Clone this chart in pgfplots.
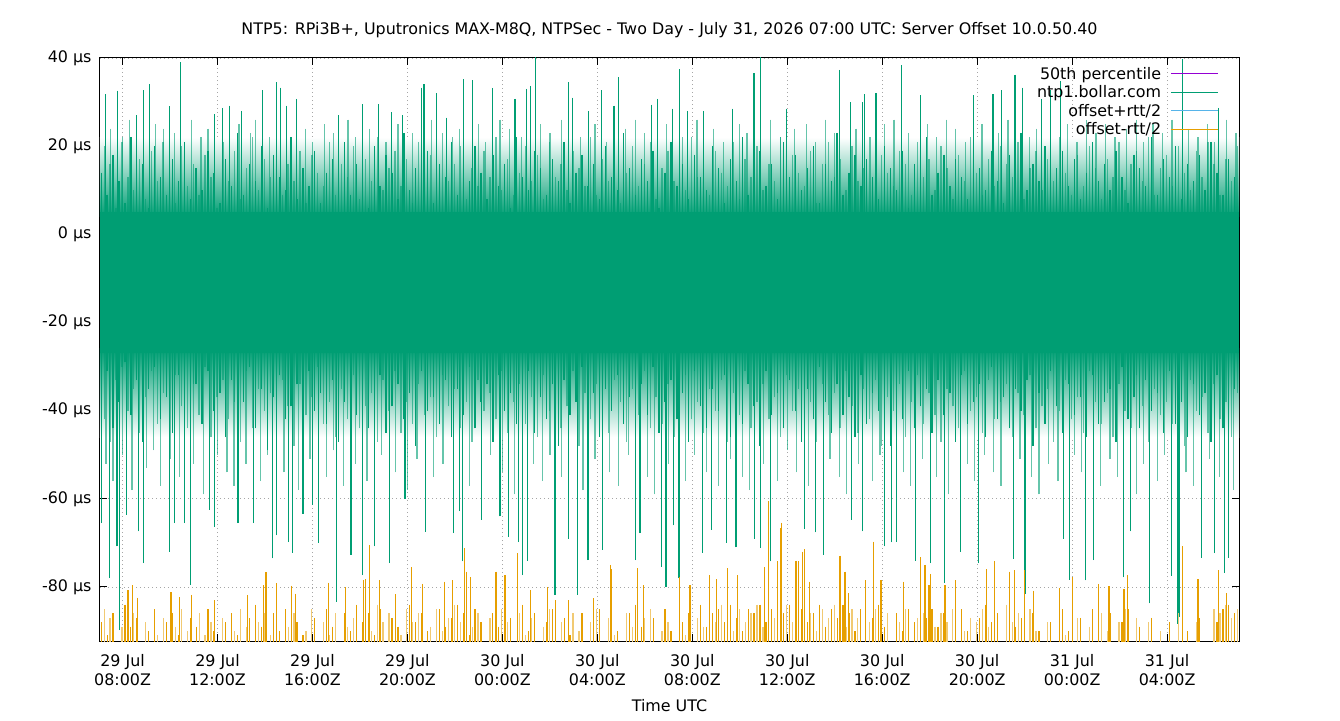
\documentclass[border=0pt]{standalone}
\usepackage{fontspec}
\setmainfont{DejaVu Sans}
\usepackage{pgfplots}
\usepackage{pgfplotstable}
\pgfplotsset{compat=1.18}
\definecolor{gnGreen}{HTML}{009E73}
\definecolor{gnOrange}{HTML}{E69F00}
\definecolor{gnBlue}{HTML}{56B4E9}
\definecolor{gnPurple}{HTML}{9400D3}

% x = hours since 29 Jul 00:00 UTC; uA/uB upward spikes, dA/dB downward spikes (ntp1), oA/oB offset-rtt/2 peaks
\pgfplotstableread{
x uA uB dA dB oA oB
7.10 14 20 -36 -42 -88 -85
7.35 9 16 -31 -47 -91 -87
7.60 18 6 -44 -33 -86 -96
7.85 12 21 -38 -30 -96 -89
8.10 7 13 -29 -40 -84 -90
8.35 22 10 -41 -35 -89 -86
8.60 11 17 -33 -45 -87 -96
8.85 16 8 -47 -37 -96 -88
9.10 6 19 -35 -31 -90 -96
9.35 20 12 -30 -43 -85 -91
9.60 13 24 -42 -36 -96 -87
9.85 9 15 -37 -48 -88 -96
10.10 17 7 -45 -32 -86 -89
10.35 12 20 -32 -39 -91 -85
10.60 21 11 -39 -44 -96 -90
10.85 8 16 -48 -34 -87 -96
11.10 15 9 -34 -41 -89 -86
11.35 10 18 -43 -30 -96 -91
11.60 19 13 -31 -46 -85 -88
11.85 14 6 -40 -37 -90 -96
12.10 7 21 -36 -33 -96 -87
12.35 17 12 -46 -42 -88 -96
12.60 11 19 -33 -38 -86 -90
12.85 23 8 -41 -47 -91 -85
13.10 9 15 -38 -31 -96 -89
13.35 16 22 -30 -44 -87 -96
13.60 12 10 -44 -35 -84 -88
13.85 20 17 -35 -40 -89 -86
14.10 6 13 -49 -36 -96 -91
14.35 18 20 -37 -45 -86 -87
14.60 13 9 -32 -33 -90 -96
14.85 10 16 -42 -39 -85 -89
15.10 22 12 -39 -48 -96 -86
15.35 8 19 -34 -34 -88 -96
15.60 15 7 -46 -41 -91 -90
15.85 11 18 -31 -37 -96 -85
16.10 19 14 -40 -30 -87 -96
16.35 7 11 -36 -43 -96 -88
16.60 14 21 -43 -38 -85 -91
16.85 17 9 -33 -46 -89 -86
17.10 12 16 -47 -35 -96 -96
17.35 21 13 -38 -42 -86 -89
17.60 9 20 -30 -32 -90 -87
17.85 16 8 -41 -44 -84 -96
18.10 13 17 -35 -39 -88 -85
18.35 6 12 -44 -36 -86 -90
18.60 20 22 -37 -47 -91 -84
18.85 11 10 -32 -33 -85 -88
19.10 18 15 -45 -40 -96 -86
19.35 14 19 -39 -31 -87 -96
19.60 8 11 -34 -45 -89 -91
19.85 23 17 -42 -38 -96 -85
20.10 10 7 -36 -43 -84 -88
20.35 15 21 -48 -34 -88 -86
20.60 12 14 -31 -41 -86 -96
20.85 19 18 -40 -37 -90 -89
21.10 7 9 -37 -46 -96 -85
21.35 16 23 -43 -32 -85 -90
21.60 13 12 -33 -39 -89 -87
21.85 21 16 -46 -35 -87 -84
22.10 9 20 -35 -44 -84 -88
22.35 17 8 -41 -38 -86 -85
22.60 12 15 -30 -47 -91 -89
22.85 20 11 -44 -33 -85 -86
23.10 14 19 -38 -40 -88 -96
23.35 8 13 -34 -36 -96 -87
23.60 18 22 -47 -42 -86 -90
23.85 11 10 -32 -31 -89 -85
24.10 16 17 -40 -45 -85 -88
24.35 6 9 -36 -38 -87 -96
24.60 22 14 -43 -34 -96 -86
24.85 13 20 -39 -43 -84 -91
25.10 10 12 -31 -37 -90 -87
25.35 19 18 -45 -46 -86 -96
25.60 15 8 -37 -32 -96 -89
25.85 9 21 -42 -40 -88 -85
26.10 17 13 -34 -35 -85 -96
26.35 12 16 -48 -44 -96 -88
26.60 21 10 -33 -39 -87 -96
26.85 7 19 -41 -31 -91 -86
27.10 14 15 -38 -48 -96 -90
27.35 18 11 -30 -36 -86 -96
27.60 11 22 -44 -42 -96 -88
27.85 16 9 -36 -34 -89 -85
28.10 8 17 -46 -40 -85 -96
28.35 20 12 -35 -45 -96 -87
28.60 13 18 -40 -33 -88 -91
28.85 10 7 -32 -38 -90 -96
29.10 23 14 -43 -47 -96 -86
29.35 15 20 -37 -35 -86 -89
29.60 9 11 -49 -41 -84 -96
29.85 17 16 -34 -31 -89 -87
30.10 12 21 -41 -44 -96 -85
30.35 19 8 -30 -37 -87 -96
30.60 6 15 -45 -43 -96 -90
30.85 14 19 -38 -34 -85 -88
31.10 21 12 -33 -46 -90 -96
31.35 11 17 -42 -39 -96 -86
31.60 16 10 -36 -32 -88 -91
31.85 8 22 -47 -42 -86 -96
32.10 18 13 -31 -38 -96 -87
32.35 13 16 -39 -45 -84 -89
32.60 10 9 -44 -35 -89 -85
32.85 20 19 -35 -40 -86 -88
33.10 15 14 -40 -33 -85 -84
33.35 7 11 -32 -47 -88 -86
33.60 17 21 -46 -36 -84 -90
33.85 12 8 -37 -41 -87 -85
34.10 22 17 -43 -31 -90 -88
34.35 9 13 -34 -44 -85 -86
34.60 14 20 -39 -38 -86 -84
34.85 19 10 -48 -34 -84 -89
35.10 11 16 -31 -42 -88 -85
35.35 16 12 -41 -37 -85 -87
35.60 8 22 -36 -46 -83 -86
35.85 21 9 -44 -32 -86 -84
36.10 13 18 -33 -40 -84 -88
36.35 18 14 -40 -35 -87 -85
36.60 10 11 -47 -43 -85 -83
36.85 15 19 -35 -38 -88 -86
37.10 20 7 -42 -47 -86 -90
37.35 7 16 -30 -34 -84 -85
37.60 16 21 -38 -41 -89 -87
37.85 12 13 -45 -36 -85 -84
38.10 23 17 -34 -44 -87 -86
38.35 9 10 -41 -31 -84 -89
38.60 14 20 -37 -39 -86 -85
38.85 18 12 -46 -45 -90 -87
39.10 11 15 -32 -35 -85 -96
39.35 17 22 -43 -42 -96 -88
39.60 13 8 -36 -33 -87 -85
39.85 8 18 -40 -48 -84 -90
40.10 20 14 -33 -37 -89 -86
40.35 15 11 -48 -40 -96 -96
40.60 10 19 -37 -34 -86 -88
40.85 19 16 -42 -46 -90 -85
41.10 6 9 -31 -38 -85 -96
41.35 16 21 -44 -32 -88 -87
41.60 12 13 -39 -43 -84 -86
41.85 22 17 -35 -36 -87 -84
42.10 9 10 -45 -41 -85 -89
42.35 14 20 -33 -47 -89 -86
42.60 18 15 -41 -35 -86 -88
42.85 11 8 -36 -39 -96 -85
43.10 17 18 -47 -44 -88 -96
43.35 13 12 -32 -31 -85 -90
43.60 8 22 -43 -40 -90 -87
43.85 21 14 -38 -37 -96 -88
44.10 15 9 -34 -45 -87 -85
44.35 10 17 -46 -33 -84 -89
44.60 19 11 -30 -42 -88 -86
44.85 12 20 -42 -38 -86 -96
45.10 7 16 -37 -34 -96 -84
45.35 18 13 -44 -46 -85 -88
45.60 14 21 -35 -36 -89 -86
45.85 23 8 -40 -41 -87 -96
46.10 10 15 -33 -32 -96 -85
46.35 16 19 -48 -44 -86 -90
46.60 12 10 -36 -39 -90 -96
46.85 20 17 -43 -35 -96 -88
47.10 9 12 -31 -47 -88 -96
47.35 15 22 -39 -40 -96 -86
47.60 19 14 -45 -33 -85 -91
47.85 11 9 -34 -42 -90 -96
48.10 17 18 -41 -37 -96 -87
48.35 8 11 -37 -45 -87 -96
48.60 14 20 -46 -31 -96 -89
48.85 21 15 -32 -38 -85 -96
49.10 12 8 -43 -43 -89 -86
49.35 16 17 -38 -36 -96 -90
49.60 10 13 -35 -46 -86 -96
49.85 19 21 -47 -34 -96 -88
50.10 13 10 -30 -40 -88 -85
50.35 7 16 -42 -44 -85 -96
50.60 18 19 -37 -32 -96 -87
50.85 15 12 -44 -39 -89 -96
51.10 11 22 -33 -47 -96 -88
51.35 22 9 -40 -35 -87 -96
51.60 9 15 -36 -41 -96 -90
51.85 17 18 -45 -38 -96 -96
52.10 13 11 -31 -43 -88 -96
52.35 20 20 -43 -36 -96 -86
52.60 8 14 -38 -48 -96 -96
52.85 16 10 -46 -33 -90 -96
53.10 12 19 -34 -40 -96 -88
53.35 18 13 -41 -37 -87 -96
53.60 10 21 -36 -45 -96 -96
53.85 21 16 -47 -34 -96 -85
54.10 14 9 -32 -42 -88 -86
54.35 9 17 -44 -38 -85 -84
54.60 17 12 -39 -46 -84 -87
54.85 13 20 -35 -36 -86 -85
}\mainT

% tallest upward spikes
\pgfplotstableread{
h v
7.27 31.8
7.79 32.6
8.58 27
8.88 32.7
9.14 34
9.98 29
10.43 39
11.86 27.3
12.2 28.7
12.5 29.2
13.01 28
13.88 32.7
14.5 34.5
14.64 33.3
14.92 29.2
15.34 30.7
17.1 27
18.12 29.5
18.77 29.5
19.34 27.7
19.8 27
20.6 33.3
20.7 34
21.24 32
21.66 26.5
22.36 35.2
22.75 35
23.6 33.2
24.53 30.7
25.03 33
25.17 33.7
25.38 40.5
26.78 34.5
26.96 31
27.62 28
28.18 32.7
28.7 29.2
28.89 35.6
30.29 29.4
30.53 30.7
31.18 28.5
31.45 37.5
31.8 28
32.46 28
33.68 28.5
34.6 36.5
34.88 40.3
35.97 28.5
38.19 37.3
38.67 30
39.16 30
39.24 31.8
39.74 32
40.82 38.3
41.62 31.5
43.83 31.5
44.67 31.8
45.03 32.7
45.59 36.2
45.9 33.3
46.71 30.7
47.1 32.7
47.51 34.7
52.65 39.8
54.15 28.7
}\tallUp

% medium upward spikes
\pgfplotstableread{
h v
7.5 24
8.0 22
8.3 26
9.4 25
9.7 21
10.2 23
10.9 26
11.3 22
11.6 24
12.9 25
13.4 23
13.6 26
14.2 22
15.7 24
16.0 21
16.5 25
16.9 23
17.5 26
17.8 22
18.4 24
19.1 21
19.6 25
20.2 23
21.0 26
21.9 22
22.2 24
23.0 25
23.3 21
23.9 26
24.3 24
24.8 22
25.6 25
26.0 23
26.5 26
27.3 22
27.9 25
28.4 21
29.2 24
29.6 26
30.0 23
30.9 25
31.6 22
32.2 26
32.9 24
33.3 21
34.0 25
34.3 23
35.3 26
35.7 22
36.3 24
36.8 25
37.2 21
37.6 26
38.0 23
38.9 24
39.5 22
40.1 25
40.5 26
41.1 23
41.9 25
42.3 22
42.7 26
43.1 24
43.5 21
44.2 25
44.9 23
45.3 26
46.2 22
46.5 24
47.8 25
48.2 21
48.6 26
49.0 23
49.4 25
49.8 22
50.3 24
50.7 26
51.0 21
51.4 25
51.8 23
52.2 26
52.9 24
53.3 22
53.7 25
54.0 21
54.5 26
54.9 23
}\medUp

% deepest downward spikes
\pgfplotstableread{
h v
7.13 -65.5
7.44 -78
7.77 -70.8
7.86 -89.8
8.18 -63.6
8.67 -67.4
8.88 -74.6
9.98 -72
10.18 -65.5
10.6 -65.5
10.85 -79.5
11.66 -62.5
11.87 -66.3
12.86 -65.5
13.5 -65.5
14.33 -73.5
14.5 -68.3
14.99 -69.8
15.17 -72.2
15.6 -63.4
16.0 -61.3
16.27 -70
17.02 -83.3
17.62 -72.7
18.1 -77.3
18.6 -70.8
19.24 -74.6
19.9 -60
20.76 -67.5
21.94 -67.8
22.32 -74.2
22.2 -62.8
23.13 -64.8
23.9 -64
24.25 -68.6
24.67 -69.8
24.84 -77.3
25.07 -74
26.22 -81.8
26.8 -69
27.17 -81.8
27.61 -73.9
28.21 -71.6
29.6 -73.9
29.8 -67.8
30.71 -75.4
30.89 -79.9
31.2 -66
31.44 -78
32.42 -72.2
32.8 -67
33.45 -70
33.84 -71
34.63 -69
34.88 -71.2
35.31 -74.2
36.71 -66.9
37.2 -67.6
37.53 -72.7
38.7 -64.7
39.18 -67.4
40.11 -70.8
40.4 -69.9
40.6 -69.8
41.39 -74
42.04 -74.6
42.61 -79
43.3 -72
44.04 -74.6
45.52 -73.6
46.01 -81.5
47.65 -69
47.9 -78.3
48.55 -78.5
48.9 -73.9
50.15 -77.8
50.45 -67.4
51.27 -83.7
52.2 -77.5
52.46 -88.3
52.53 -86.8
53.45 -73.4
54.0 -72.3
54.43 -76.8
54.6 -73.4
}\tallDown

% medium downward spikes
\pgfplotstableread{
h v
7.3 -52
7.6 -56
8.0 -50
8.4 -58
9.0 -53
9.3 -49
9.6 -57
10.0 -51
10.4 -55
11.0 -52
11.4 -59
12.0 -50
12.4 -54
12.7 -57
13.2 -52
13.8 -56
14.1 -50
14.8 -54
15.4 -58
15.9 -51
16.6 -55
16.9 -49
17.3 -57
17.8 -52
18.3 -56
18.9 -50
19.5 -54
20.0 -58
20.4 -51
21.1 -55
21.5 -52
22.6 -57
23.5 -50
24.0 -54
24.5 -59
25.3 -52
25.7 -56
26.0 -50
26.5 -55
27.4 -58
27.9 -51
28.5 -54
28.9 -57
29.3 -50
30.1 -55
30.4 -59
31.0 -52
31.7 -56
32.1 -50
32.6 -54
33.1 -57
33.6 -51
34.1 -55
34.4 -58
35.0 -52
35.6 -56
36.0 -49
36.4 -54
36.9 -57
37.8 -51
38.2 -55
38.5 -59
39.0 -52
39.6 -56
39.9 -50
40.9 -54
41.2 -57
41.7 -51
42.3 -55
42.8 -59
43.6 -52
43.9 -56
44.3 -50
44.7 -54
45.0 -57
45.8 -51
46.3 -55
46.6 -59
47.0 -52
47.4 -56
48.1 -50
48.4 -54
49.2 -57
49.6 -51
49.9 -55
50.7 -59
51.0 -52
51.6 -56
51.9 -50
52.8 -54
53.1 -57
53.8 -51
54.2 -55
54.8 -58
}\medDown

% tallest offset-rtt/2 peaks
\pgfplotstableread{
h v
8.23 -80.7
8.42 -79.6
8.64 -82.4
10.04 -81.2
10.4 -82.3
10.91 -81.8
11.87 -83
13.26 -81.8
14.04 -76.7
13.95 -79.6
14.47 -79.2
15.1 -79.7
15.3 -81.5
16.69 -79
17.4 -80
18.15 -78.5
18.25 -78.2
18.4 -70.5
18.82 -78.5
19.5 -81.6
20.18 -75.5
20.65 -79.3
21.55 -78.8
21.9 -78.5
22.39 -71.2
22.5 -76.5
22.65 -77.8
23.73 -76.5
24.11 -77.3
24.65 -72.3
25.2 -80.7
25.9 -80
26.25 -83
26.8 -83
27.85 -82.6
28.56 -75
28.6 -76
29.68 -75.8
29.95 -79.6
31.45 -77.8
31.9 -79.6
32.72 -77.3
33.03 -78.2
33.47 -75.8
33.9 -77.3
35.03 -75.5
35.2 -60.6
35.6 -74.2
35.72 -66.7
35.76 -65.4
36.37 -74.1
36.47 -74.2
36.65 -72
36.74 -71.4
36.95 -78.8
38.22 -72.9
38.43 -76.5
38.57 -81.4
39.62 -69.7
39.3 -78.5
39.95 -78.5
40.88 -78.8
41.62 -73.3
41.8 -75
41.97 -79.6
42.05 -77
42.64 -79.6
43.1 -78.5
44.38 -76
44.74 -74.1
45.35 -76.5
45.56 -76.2
46.0 -76.2
46.36 -80.8
47.48 -80.3
48.0 -77.8
49.1 -79.3
49.55 -79.8
50.32 -77.3
50.18 -80.5
52.65 -70.8
53.3 -78.2
54.18 -76.2
54.5 -81.4
}\tallOrange

\begin{document}
\begin{tikzpicture}
\useasboundingbox (0,0) rectangle (1340pt,720pt);
\begin{axis}[
  at={(100pt,79pt)}, anchor=south west,
  scale only axis, width=1139pt, height=583pt,
  font=\fontsize{15.9}{18.5}\selectfont,
  xmin=7.05, xmax=55.03, ymin=-92.25, ymax=40,
  axis line style={line width=1pt},
  tick align=inside, major tick length=7pt,
  every tick/.style={black, line width=1pt},
  xtick={8,12,16,20,24,28,32,36,40,44,48,52},
  xticklabels={{29 Jul\\08:00Z},{29 Jul\\12:00Z},{29 Jul\\16:00Z},{29 Jul\\20:00Z},{30 Jul\\00:00Z},{30 Jul\\04:00Z},{30 Jul\\08:00Z},{30 Jul\\12:00Z},{30 Jul\\16:00Z},{30 Jul\\20:00Z},{31 Jul\\00:00Z},{31 Jul\\04:00Z}},
  xticklabel style={align=center, yshift=-10pt},
  ytick={-80,-60,-40,-20,0,20,40},
  yticklabels={-80 µs,-60 µs,-40 µs,-20 µs,0 µs,20 µs,40 µs},
  yticklabel style={xshift=-5pt},
  grid=major,
  major grid style={draw=black!35, line width=0.8pt, dash pattern=on 0.8pt off 3.2pt},
  title={NTP5: RPi3B+, Uputronics MAX-M8Q, NTPSec - Two Day - July 31, 2026 07:00 UTC: Server Offset 10.0.50.40},
  title style={at={(0.5,1)}, anchor=base, yshift=17pt},
  xlabel={Time UTC},
  xlabel style={at={(0.5,0)}, anchor=base, yshift=-70pt},
  legend cell align=right,
  legend plot pos=right,
  legend image code/.code={\draw[#1, line width=1pt] (0pt,0pt) -- (47pt,0pt);},
  legend style={at={(0.982,0.987)}, anchor=north east, draw=none, fill=none,
    inner sep=0pt, row sep=2.6pt, nodes={inner sep=1.2pt},
    /tikz/every odd column/.append style={column sep=8pt}},
  clip=true,
]
% fuzzy edges of the dense ntp1.bollar.com band (density falling off away from the core)
\addplot[forget plot, draw=none, top color=white, bottom color=gnGreen] coordinates {(7.05,4) (55.03,4) (55.03,22) (7.05,22)} -- cycle;
\addplot[forget plot, draw=none, top color=gnGreen, bottom color=white] coordinates {(7.05,-26) (55.03,-26) (55.03,-46) (7.05,-46)} -- cycle;

% lighter (thin, antialiased) spikes, drawn semi-transparent
\addplot[forget plot, draw=none, mark=none, error bars/.cd, y dir=minus, y explicit, error mark=none,
  error bar style={draw=gnGreen, draw opacity=0.6, line width=1.3pt}]
  table[x expr=\thisrow{x}+0.125, y=uB, y error expr=\thisrow{uB}] {\mainT};
\addplot[forget plot, draw=none, mark=none, error bars/.cd, y dir=minus, y explicit, error mark=none,
  error bar style={draw=gnGreen, draw opacity=0.6, line width=1.3pt}]
  table[x=h, y=v, y error expr=\thisrow{v}] {\medUp};
\addplot[forget plot, draw=none, mark=none, error bars/.cd, y dir=plus, y explicit, error mark=none,
  error bar style={draw=gnGreen, draw opacity=0.6, line width=1.3pt}]
  table[x expr=\thisrow{x}+0.125, y=dB, y error expr=-\thisrow{dB}] {\mainT};
\addplot[forget plot, draw=none, mark=none, error bars/.cd, y dir=plus, y explicit, error mark=none,
  error bar style={draw=gnGreen, draw opacity=0.6, line width=1.3pt}]
  table[x=h, y=v, y error expr=-\thisrow{v}] {\medDown};

% solid core of the band
\addplot[forget plot, fill=gnGreen, draw=none] coordinates {(7.05,5) (55.03,5) (55.03,-27) (7.05,-27)} -- cycle;

% darker spikes
\addplot[forget plot, draw=none, mark=none, error bars/.cd, y dir=minus, y explicit, error mark=none,
  error bar style={draw=gnGreen, line width=1.3pt}]
  table[x=x, y=uA, y error expr=\thisrow{uA}] {\mainT};
\addplot[forget plot, draw=none, mark=none, error bars/.cd, y dir=minus, y explicit, error mark=none,
  error bar style={draw=gnGreen, line width=1.2pt}]
  table[x=h, y=v, y error expr=\thisrow{v}] {\tallUp};
\addplot[forget plot, draw=none, mark=none, error bars/.cd, y dir=plus, y explicit, error mark=none,
  error bar style={draw=gnGreen, line width=1.3pt}]
  table[x=x, y=dA, y error expr=-\thisrow{dA}] {\mainT};
\addplot[forget plot, draw=none, mark=none, error bars/.cd, y dir=plus, y explicit, error mark=none,
  error bar style={draw=gnGreen, line width=1.2pt}]
  table[x=h, y=v, y error expr=-\thisrow{v}] {\tallDown};

% offset-rtt/2 peaks rising from below the axis
\addplot[forget plot, draw=none, mark=none, error bars/.cd, y dir=minus, y explicit, error mark=none,
  error bar style={draw=gnOrange, line width=1.2pt}]
  table[x=x, y=oA, y error expr=\thisrow{oA}+100] {\mainT};
\addplot[forget plot, draw=none, mark=none, error bars/.cd, y dir=minus, y explicit, error mark=none,
  error bar style={draw=gnOrange!55, line width=1.2pt}]
  table[x expr=\thisrow{x}+0.125, y=oB, y error expr=\thisrow{oB}+100] {\mainT};
\addplot[forget plot, draw=none, mark=none, error bars/.cd, y dir=minus, y explicit, error mark=none,
  error bar style={draw=gnOrange, line width=1.2pt}]
  table[x=h, y=v, y error expr=\thisrow{v}+100] {\tallOrange};

\addlegendimage{gnPurple}
\addlegendentry{50th percentile}
\addlegendimage{gnGreen}
\addlegendentry{ntp1.bollar.com}
\addlegendimage{gnBlue}
\addlegendentry{offset+rtt/2}
\addlegendimage{gnOrange}
\addlegendentry{offset-rtt/2}
\end{axis}
\end{tikzpicture}
\end{document}
